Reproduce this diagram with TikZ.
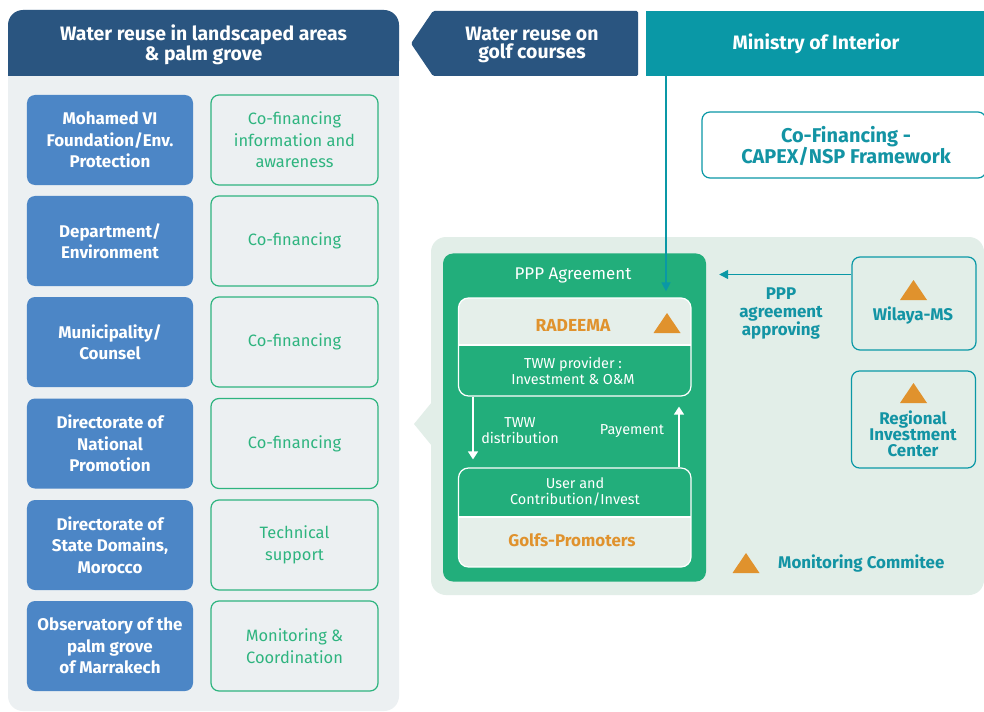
\documentclass[tikz,border=0pt]{standalone}
\usepackage{fontspec}
\setmainfont{Fira Sans}
\usetikzlibrary{arrows.meta}
\definecolor{lpanel}{HTML}{ECF0F2}
\definecolor{dblue}{HTML}{2A5580}
\definecolor{lblue}{HTML}{4C86C6}
\definecolor{ogreen}{HTML}{2EB47F}
\definecolor{teal}{HTML}{0A98A6}
\definecolor{tealtxt}{HTML}{1394A4}
\definecolor{gpanel}{HTML}{E2EEE8}
\definecolor{pgreen}{HTML}{22AE7B}
\definecolor{radlight}{HTML}{E5EFEA}
\definecolor{orng}{HTML}{E0922D}
\newcommand\fhdr{\fontsize{19.5}{18}\selectfont\bfseries}
\newcommand\flbox{\fontsize{17}{21.5}\selectfont\bfseries}
\newcommand\frbox{\fontsize{16.5}{21.5}\selectfont}
\newcommand\fsmall{\fontsize{14.5}{15.5}\selectfont}
\newcommand\fmid{\fontsize{17}{18.5}\selectfont\bfseries}
\tikzset{
  lbox/.style={fill=lblue, rounded corners=8bp, minimum width=166bp, minimum height=90bp,
    inner sep=0pt, text=white, font=\flbox, align=center},
  rbox/.style={draw=ogreen, line width=1.2bp, fill=lpanel, rounded corners=8bp,
    minimum width=167bp, minimum height=90bp, inner sep=0pt, text=ogreen, font=\frbox, align=center},
  tbox/.style={draw=teal, line width=1.2bp, rounded corners=8bp, inner sep=0pt},
  ttxt/.style={text=tealtxt, font=\fmid, align=center, inner sep=0pt},
  wtxt/.style={text=white, font=\fsmall, align=center, inner sep=0pt},
  tealarrow/.style={draw=teal, line width=1.3bp, -{Triangle[length=9bp,width=9bp]}},
  whitearrow/.style={draw=white, line width=1.3bp, -{Triangle[length=8bp,width=10bp]}},
  tri/.pic={\fill[orng] (-13.5,10) -- (0,-10) -- (13.5,10) -- cycle;}
}
\begin{document}
\begin{tikzpicture}[x=1bp,y=-1bp]
\useasboundingbox[fill=white] (0,0) rectangle (984,712);
% left panel
\fill[lpanel, rounded corners=15bp] (8,10) rectangle (399,711);
\fill[dblue, rounded corners=15bp] (8,10) rectangle (399,76);
\fill[dblue] (8,50) rectangle (399,76);
\node[text=white, font=\fhdr, align=center, inner sep=0pt] (hdr) at (203.5,45) {Water reuse in landscaped areas\\\& palm grove};
% left rows
\node[lbox] (l1) at (110,140) {Mohamed VI\\Foundation/Env.\\Protection};
\node[lbox] (l2) at (110,241) {Department/\\Environment};
\node[lbox] (l3) at (110,342) {Municipality/\\Counsel};
\node[lbox] (l4) at (110,443.5) {Directorate of\\National\\Promotion};
\node[lbox] (l5) at (110,545) {Directorate of\\State Domains,\\Morocco};
\node[lbox] (l6) at (110,646) {Observatory of the\\palm grove\\of Marrakech};
\node[rbox] (r1) at (294.5,140) {Co-financing\\information and\\awareness};
\node[rbox] (r2) at (294.5,241) {Co-financing};
\node[rbox] (r3) at (294.5,342) {Co-financing};
\node[rbox] (r4) at (294.5,443.5) {Co-financing};
\node[rbox] (r5) at (294.5,545) {Technical\\support};
\node[rbox] (r6) at (294.5,646) {Monitoring \&\\Coordination};
% golf arrow
\fill[dblue, rounded corners=1.5bp] (638,11) -- (433,11) -- (411,43.5) -- (433,76) -- (638,76) -- cycle;
\node[text=white, font=\fhdr, align=center, inner sep=0pt] (golf) at (532,45) {Water reuse on\\golf courses};
% ministry
\node[fill=teal, minimum width=340bp, minimum height=65bp, inner sep=0pt, text=white, font=\fhdr] (min) at (816,43.5) {Ministry of Interior};
% co-financing
\node[tbox, fill=white, minimum width=284bp, minimum height=66bp] (cof) at (844,145) {};
\node[text=tealtxt, font=\fontsize{20}{20}\selectfont\bfseries, align=center, inner sep=0pt] (coft) at (846,146) {Co-Financing -\\CAPEX/NSP Framework};
% right panel
\fill[gpanel, rounded corners=15bp] (431,237) rectangle (984,595);
\fill[gpanel] (432,402) -- (414,424) -- (432,446) -- cycle;
% PPP green box
\node[fill=pgreen, rounded corners=10bp, minimum width=263bp, minimum height=328bp, inner sep=0pt] (ppp) at (574.5,417.5) {};
\node[text=white, font=\fontsize{17}{18}\selectfont, inner sep=0pt] (pppt) at (573,275) {PPP Agreement};
% RADEEMA box
\begin{scope}
\clip[rounded corners=10bp] (458.5,298) rectangle (691,396);
\fill[radlight] (458,298) rectangle (691,345);
\fill[pgreen] (458,345) rectangle (691,396);
\end{scope}
\draw[white, line width=1.2bp] (458.5,345) -- (691,345);
\node[draw=white, line width=1.2bp, rounded corners=10bp, minimum width=232.5bp, minimum height=98bp, inner sep=0pt] (rad) at (574.75,347) {};
\node[text=orng, font=\fontsize{17.5}{18}\selectfont\bfseries, inner sep=0pt] (radt) at (573,325) {RADEEMA};
\pic at (667,323) {tri};
\node[wtxt] (twwp) at (573,371) {TWW provider :\\Investment \& O\&M};
% Golfs box
\begin{scope}
\clip[rounded corners=10bp] (458.5,468) rectangle (691,567);
\fill[pgreen] (458,468) rectangle (691,517);
\fill[radlight] (458,517) rectangle (691,567);
\end{scope}
\draw[white, line width=1.2bp] (458.5,517) -- (691,517);
\node[draw=white, line width=1.2bp, rounded corners=10bp, minimum width=232.5bp, minimum height=99bp, inner sep=0pt] (gp) at (574.75,517.5) {};
\node[wtxt] (user) at (575,492) {User and\\Contribution/Invest};
\node[text=orng, font=\fontsize{17}{18}\selectfont\bfseries, inner sep=0pt] (gpt) at (572,540) {Golfs-Promoters};
% inner arrows
\coordinate (dx) at (473,0);
\coordinate (ux) at (679,0);
\draw[whitearrow, shorten >=8bp] (rad.south -| dx) -- (gp.north -| dx);
\draw[whitearrow, shorten >=10bp] (gp.north -| ux) -- (rad.south -| ux);
\node[wtxt, font=\fontsize{14.5}{16}\selectfont] (twwd) at (520,431) {TWW\\distribution};
\node[wtxt] (pay) at (632,431) {Payement};
% ministry arrow
\coordinate (mx) at (666,0);
\draw[tealarrow, shorten >=6bp] (min.south -| mx) -- (rad.north -| mx);
% Wilaya
\node[tbox, minimum width=124bp, minimum height=93bp] (wil) at (914,303.5) {};
\pic at (913.5,290) {tri};
\node[ttxt] (wilt) at (913,316) {Wilaya-MS};
\coordinate (ya) at (0,274.5);
\draw[tealarrow, shorten >=13bp] (wil.west |- ya) -- (ppp.east |- ya);
\node[ttxt] (appr) at (781,313.5) {PPP\\agreement\\approving};
% Regional
\node[tbox, minimum width=124bp, minimum height=97bp] (reg) at (913.5,419.5) {};
\pic at (913.5,393) {tri};
\node[ttxt, font=\fontsize{17}{16}\selectfont\bfseries] (regt) at (913,434) {Regional\\Investment\\Center};
% Monitoring
\pic at (746,563) {tri};
\node[ttxt, anchor=west] (mon) at (778,564) {Monitoring Commitee};
\end{tikzpicture}
\end{document}
